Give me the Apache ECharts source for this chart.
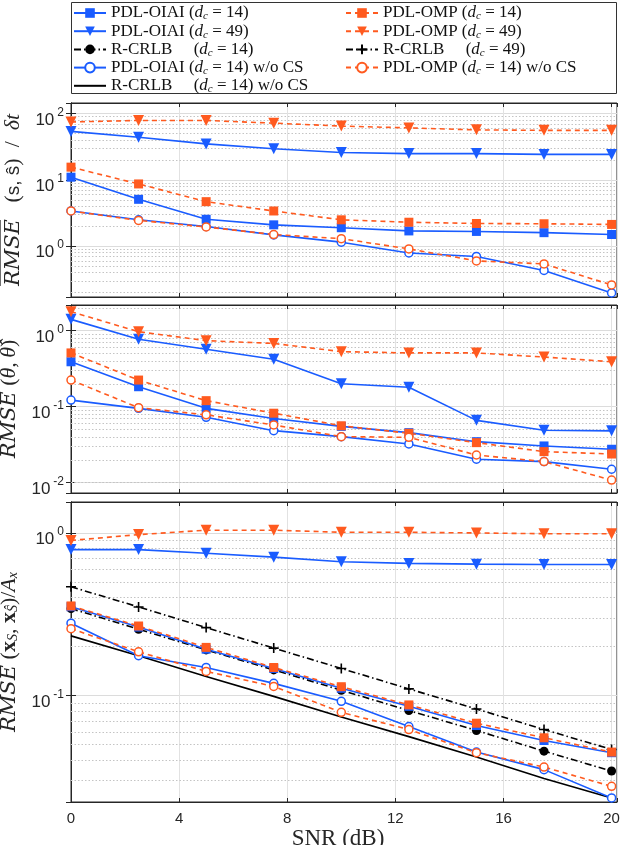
<!DOCTYPE html>
<html>
<head>
<meta charset="utf-8">
<script src="https://cdn.jsdelivr.net/npm/echarts@6/dist/echarts.min.js"></script>
<style>
html, body { margin: 0; padding: 0; background: #fff; }
#chart { width: 623px; height: 845px; }
</style>
</head>
<body>
<div id="chart"></div>
<script>
// SNR (dB) of every measured point
var snr = [0, 2.5, 5, 7.5, 10, 12.5, 15, 17.5, 20];

// panel 1 : RMSE(s, s^) / dt
var timeOiai14 = [11.0, 5.1, 2.55, 2.1, 1.9, 1.7, 1.67, 1.6, 1.5];
var timeOiai49 = [54, 44, 35, 29.5, 26, 25, 25, 24.3, 24.3];
var timeOmp14 = [15.6, 8.7, 4.7, 3.4, 2.5, 2.3, 2.2, 2.18, 2.13];
var timeOmp49 = [75, 79, 79, 72, 65, 61, 57, 56, 56];
var timeOiaiNoCs = [3.4, 2.5, 1.98, 1.48, 1.15, 0.79, 0.70, 0.43, 0.197];
var timeOmpNoCs = [3.4, 2.45, 1.95, 1.5, 1.3, 0.91, 0.6, 0.54, 0.26];

// panel 2 : RMSE(theta, theta^)
var angOiai14 = [0.39, 0.183, 0.095, 0.07, 0.055, 0.0455, 0.0346, 0.0304, 0.0275];
var angOiai49 = [1.41, 0.77, 0.57, 0.42, 0.2, 0.18, 0.066, 0.049, 0.048];
var angOmp14 = [0.51, 0.224, 0.12, 0.082, 0.056, 0.0446, 0.0336, 0.0256, 0.0238];
var angOmp49 = [1.78, 0.97, 0.74, 0.68, 0.53, 0.51, 0.51, 0.45, 0.39];
var angOiaiNoCs = [0.122, 0.095, 0.0724, 0.0483, 0.0403, 0.0323, 0.0203, 0.0189, 0.015];
var angOmpNoCs = [0.224, 0.097, 0.078, 0.0574, 0.0403, 0.0395, 0.0231, 0.0189, 0.0108];

// panel 3 : RMSE(x_S, x_S^) / A_x
var posOiai14 = [0.352, 0.264, 0.193, 0.147, 0.111, 0.086, 0.0655, 0.053, 0.0446];
var posOiai49 = [0.79, 0.79, 0.75, 0.71, 0.665, 0.65, 0.643, 0.64, 0.64];
var posOmp14 = [0.356, 0.268, 0.198, 0.149, 0.1135, 0.0877, 0.0677, 0.0551, 0.045];
var posOmp49 = [0.9, 0.977, 1.04, 1.04, 1.01, 1.01, 1.0, 0.99, 0.99];
var posCrlb14 = [0.343, 0.256, 0.191, 0.144, 0.108, 0.081, 0.0611, 0.0456, 0.0344];
var posCrlb49 = [0.467, 0.351, 0.262, 0.196, 0.147, 0.11, 0.0828, 0.0619, 0.0467];
var posOiaiNoCs = [0.279, 0.176, 0.149, 0.119, 0.0923, 0.0646, 0.045, 0.0351, 0.0235];
var posOmpNoCs = [0.258, 0.186, 0.141, 0.114, 0.079, 0.0619, 0.0446, 0.0364, 0.0277];
var posCrlbNoCs = [0.233, 0.176, 0.131, 0.099, 0.074, 0.056, 0.042, 0.031, 0.0235];

// x ticks and y ranges of the three panels
var xTicks = [0, 4, 8, 12, 16, 20];
var yRanges = [[0.171, 145], [0.0073, 2.18], [0.0222, 1.55]];

var legendLeft = ['OIAI14', 'OIAI49', 'CRLB14', 'OIAINOCS', 'CRLBNOCS'];
var legendRight = ['OMP14', 'OMP49', 'CRLB49', 'OMPNOCS'];

var BLUE = '#1a5cff', ORANGE = '#ff5a1f', BLACK = '#000', INK = '#262626';
var DASH = [5, 4], DASHDOT = [7, 3, 1.5, 3];

var look = {
	OIAI14:   { color: BLUE, fill: BLUE, type: 'solid', symbol: 'rect', size: 9, rot: 0 },
	OIAI49:   { color: BLUE, fill: BLUE, type: 'solid', symbol: 'triangle', size: 11, rot: 180 },
	CRLB14:   { color: BLACK, fill: BLACK, type: DASHDOT, symbol: 'circle', size: 9, rot: 0 },
	OIAINOCS: { color: BLUE, fill: '#fff', type: 'solid', symbol: 'circle', size: 8, rot: 0 },
	CRLBNOCS: { color: BLACK, fill: BLACK, type: 'solid', symbol: 'none', size: 0, rot: 0 },
	OMP14:    { color: ORANGE, fill: ORANGE, type: DASH, symbol: 'rect', size: 9, rot: 0 },
	OMP49:    { color: ORANGE, fill: ORANGE, type: DASH, symbol: 'triangle', size: 11, rot: 180 },
	CRLB49:   { color: BLACK, fill: BLACK, type: DASHDOT, symbol: 'path://M0,5H10M5,0V10', size: 10, rot: 0 },
	OMPNOCS:  { color: ORANGE, fill: '#fff', type: DASH, symbol: 'circle', size: 8, rot: 0 }
};

var legendText = {
	OIAI14: '{n|PDL-OIAI (}{i|d}{s|c}{n| = 14)}',
	OIAI49: '{n|PDL-OIAI (}{i|d}{s|c}{n| = 49)}',
	CRLB14: '{n|R-CRLB     (}{i|d}{s|c}{n| = 14)}',
	OIAINOCS: '{n|PDL-OIAI (}{i|d}{s|c}{n| = 14) w/o CS}',
	CRLBNOCS: '{n|R-CRLB     (}{i|d}{s|c}{n| = 14) w/o CS}',
	OMP14: '{n|PDL-OMP (}{i|d}{s|c}{n| = 14)}',
	OMP49: '{n|PDL-OMP (}{i|d}{s|c}{n| = 49)}',
	CRLB49: '{n|R-CRLB     (}{i|d}{s|c}{n| = 49)}',
	OMPNOCS: '{n|PDL-OMP (}{i|d}{s|c}{n| = 14) w/o CS}'
};

var chart = echarts.init(document.getElementById('chart'));

function line(name, g, values) {
	var s = look[name];
	return {
		name: name,
		type: 'line',
		xAxisIndex: g,
		yAxisIndex: g,
		data: snr.map(function(x, i) { return [x, values[i]]; }),
		symbol: s.symbol,
		symbolSize: s.size,
		symbolRotate: s.rot,
		showSymbol: s.symbol !== 'none',
		lineStyle: { color: s.color, width: 1.6, type: s.type },
		itemStyle: { color: s.fill, borderColor: s.color, borderWidth: s.fill === '#fff' ? 1.5 : (s.symbol.indexOf('path') === 0 ? 1.6 : 0) },
		z: 5,
		animation: false
	};
}

// dotted minor grid at 2..9 x 10^k, the way the log plot shows it
function minorGrid(g) {
	var lo = yRanges[g][0], hi = yRanges[g][1], vals = [];
	for (var k = Math.floor(Math.log10(lo)); k <= Math.ceil(Math.log10(hi)); k++) {
		for (var m = 2; m <= 9; m++) {
			var v = m * Math.pow(10, k);
			if (v > lo && v < hi) vals.push({ yAxis: v });
		}
	}
	return {
		name: 'minor' + g,
		type: 'line',
		xAxisIndex: g,
		yAxisIndex: g,
		data: [],
		silent: true,
		z: 1,
		animation: false,
		markLine: {
			silent: true,
			symbol: 'none',
			label: { show: false },
			animation: false,
			lineStyle: { color: '#c4c4c4', type: [1.5, 2], width: 1 },
			data: vals
		}
	};
}

var grids = [
	{ left: 71, right: 6, top: 103, height: 194 },
	{ left: 71, right: 6, top: 305, height: 188 },
	{ left: 71, right: 6, top: 502, height: 300 }
];
grids.forEach(function(gr) {
	gr.show = true;
	gr.borderColor = INK;
	gr.borderWidth = 1;
	gr.backgroundColor = '#fff';
	gr.containLabel = false;
	gr.outerBoundsMode = 'none';
});

// overline over RMSE is a thin bar on its own line above the word
var yNames = [
	'{bar| }\n{ov|RMSE}{rm|   (}{sf|s, \u015D}{rm|)  /  }{it|\u03B4t}',
	'{bar| }\n{ov|RMSE}{rm| (}{it|\u03B8,\u2009\u03B8\u0302}{rm|)}',
	'{bar| }\n{ov|RMSE}{rm| (}{bf|x}{sub|S}{rm|, }{bf|x}{sub|\u015C}{rm|)/}{it|A}{sub|x}'
];
var nameRich = {
	bar: { width: 66, height: 1.3, lineHeight: 5, backgroundColor: INK, align: 'left' },
	ov: { fontFamily: 'DejaVu Serif', fontStyle: 'italic', fontSize: 21, lineHeight: 22, color: INK },
	rm: { fontFamily: 'Liberation Serif', fontSize: 22, lineHeight: 22, color: INK },
	it: { fontFamily: 'Liberation Serif', fontStyle: 'italic', fontSize: 22, lineHeight: 22, color: INK },
	sf: { fontFamily: 'Liberation Sans', fontSize: 19, lineHeight: 22, color: INK },
	bf: { fontFamily: 'Liberation Serif', fontWeight: 'bold', fontSize: 22, lineHeight: 22, color: INK },
	sub: { fontFamily: 'Liberation Serif', fontStyle: 'italic', fontSize: 14, lineHeight: 14, verticalAlign: 'bottom', color: INK }
};

var xAxes = [], yAxes = [];
for (var g = 0; g < 3; g++) {
	var bottom = g === 2;
	xAxes.push({
		type: 'value', gridIndex: g, min: 0, max: 20.2, interval: 4,
		axisLine: { show: true, lineStyle: { color: INK } },
		axisTick: { show: true, inside: true, length: 4, lineStyle: { color: INK } },
		axisLabel: {
			show: bottom, margin: 9, color: INK, fontFamily: 'Liberation Sans', fontSize: 15,
			formatter: function(v) { return xTicks.indexOf(v) >= 0 ? String(v) : ''; }
		},
		splitLine: { show: true, lineStyle: { color: '#e2e2e2', width: 1 } },
		name: bottom ? 'SNR (dB)' : '',
		nameLocation: 'middle',
		nameGap: 25,
		nameTextStyle: { fontFamily: 'Liberation Serif', fontSize: 23, color: INK, verticalAlign: 'top', padding: [0, 12, 0, 0] }
	});
	yAxes.push({
		type: 'log', logBase: 10, gridIndex: g, min: yRanges[g][0], max: yRanges[g][1],
		axisLine: { show: true, lineStyle: { color: INK } },
		axisTick: { show: true, inside: true, length: 5, lineStyle: { color: INK } },
		axisLabel: {
			margin: 7, color: INK, padding: [8, 0, 0, 0],
			formatter: function(v) {
				var e = Math.log10(v), r = Math.round(e);
				if (Math.abs(e - r) > 1e-6) return '';
				return '{b|10}{s|' + r + '}';
			},
			rich: {
				b: { fontFamily: 'Liberation Sans', fontSize: 17, lineHeight: 22, verticalAlign: 'bottom', color: INK },
				s: { fontFamily: 'Liberation Sans', fontSize: 12, lineHeight: 12, padding: [0, 0, 0, 3], verticalAlign: 'top', color: INK }
			}
		},
		splitLine: { show: true, lineStyle: { color: '#dcdcdc', width: 1 } },
		name: yNames[g],
		nameLocation: 'middle',
		nameRotate: 90,
		nameGap: 42,
		nameTextStyle: { rich: nameRich, align: 'center' }
	});
}
// ticks on the top and right edges of every box
for (var h = 0; h < 3; h++) {
	xAxes.push({
		type: 'value', gridIndex: h, position: 'top', min: 0, max: 20.2, interval: 4,
		axisLine: { show: true, lineStyle: { color: INK } },
		axisTick: { show: true, inside: true, length: 4, lineStyle: { color: INK } },
		axisLabel: { show: false }, splitLine: { show: false }
	});
	yAxes.push({
		type: 'log', logBase: 10, gridIndex: h, position: 'right', min: yRanges[h][0], max: yRanges[h][1],
		axisLine: { show: true, lineStyle: { color: INK } },
		axisTick: { show: true, inside: true, length: 5, lineStyle: { color: INK } },
		axisLabel: { show: false }, splitLine: { show: false }
	});
}

var series = [
	minorGrid(0), minorGrid(1), minorGrid(2),
	line('OIAI49', 0, timeOiai49), line('OMP49', 0, timeOmp49),
	line('OIAI14', 0, timeOiai14), line('OMP14', 0, timeOmp14),
	line('OIAINOCS', 0, timeOiaiNoCs), line('OMPNOCS', 0, timeOmpNoCs),
	line('OIAI49', 1, angOiai49), line('OMP49', 1, angOmp49),
	line('OIAI14', 1, angOiai14), line('OMP14', 1, angOmp14),
	line('OIAINOCS', 1, angOiaiNoCs), line('OMPNOCS', 1, angOmpNoCs),
	line('OIAI49', 2, posOiai49), line('OMP49', 2, posOmp49),
	line('CRLBNOCS', 2, posCrlbNoCs), line('CRLB49', 2, posCrlb49),
	line('CRLB14', 2, posCrlb14),
	line('OIAINOCS', 2, posOiaiNoCs), line('OMPNOCS', 2, posOmpNoCs),
	line('OIAI14', 2, posOiai14), line('OMP14', 2, posOmp14)
];

var legendRich = {
	n: { fontFamily: 'Liberation Serif', fontSize: 17, lineHeight: 18, color: '#111' },
	i: { fontFamily: 'Liberation Serif', fontStyle: 'italic', fontSize: 17, lineHeight: 18, color: '#111' },
	s: { fontFamily: 'Liberation Serif', fontStyle: 'italic', fontSize: 11, lineHeight: 12, verticalAlign: 'bottom', color: '#111' }
};
function legendOf(names, left) {
	return {
		// the plain R-CRLB line has no marker, so its legend sample shows the line only
		data: names.map(function(n) {
			return look[n].symbol === 'none' ? { name: n, itemStyle: { opacity: 0 } } : n;
		}),
		orient: 'vertical', left: left, top: 4, padding: 0, z: 10,
		itemWidth: 32, itemHeight: 12, itemGap: 0.2, selectedMode: false,
		formatter: function(n) { return legendText[n]; },
		textStyle: { rich: legendRich, lineHeight: 18 }
	};
}

chart.setOption({
	animation: false,
	backgroundColor: '#fff',
	graphic: [{
		type: 'rect', z: 0, silent: true,
		shape: { x: 71.5, y: 2.5, width: 545, height: 91 },
		style: { fill: '#fff', stroke: '#333', lineWidth: 1 }
	}],
	legend: [legendOf(legendLeft, 73), legendOf(legendRight, 345)],
	grid: grids,
	xAxis: xAxes,
	yAxis: yAxes,
	series: series
});
</script>
</body>
</html>
